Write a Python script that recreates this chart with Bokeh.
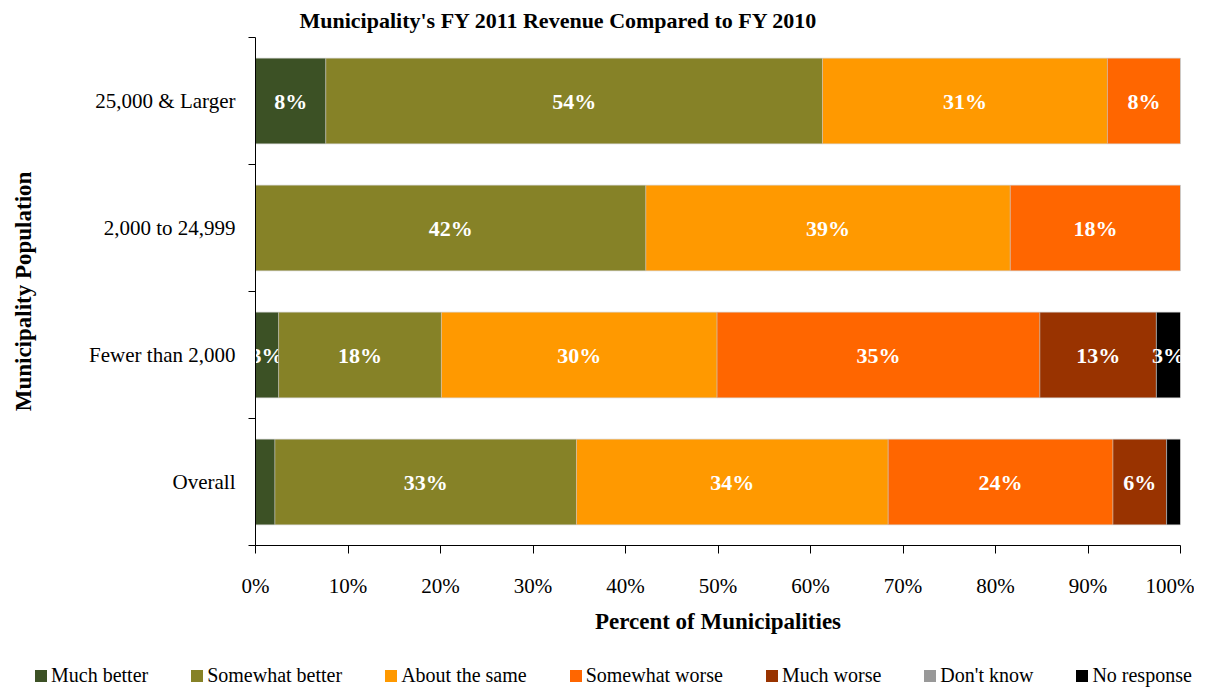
from bokeh.plotting import figure
from bokeh.models import FixedTicker, Legend, LegendItem, ColumnDataSource, Title
from bokeh.core.properties import value
from bokeh.embed import file_html
from bokeh.resources import INLINE

# ---- data ----
groups = ["Overall", "Fewer than 2,000", "2,000 to 24,999", "25,000 & Larger"]
series = ["Much better", "Somewhat better", "About the same", "Somewhat worse",
          "Much worse", "Don't know", "No response"]
much_better     = [2.1, 2.5, 0.0, 7.6]
somewhat_better = [32.6, 17.6, 42.2, 53.7]
about_same      = [33.7, 29.8, 39.4, 30.8]
somewhat_worse  = [24.3, 34.9, 18.4, 7.9]
much_worse      = [5.8, 12.6, 0.0, 0.0]
dont_know       = [0.0, 0.0, 0.0, 0.0]
no_response     = [1.5, 2.6, 0.0, 0.0]
colors = ["#3C5125", "#868227", "#FF9900", "#FF6600", "#993300", "#999999", "#000000"]
x_ticks = [0, 10, 20, 30, 40, 50, 60, 70, 80, 90, 100]

values = [much_better, somewhat_better, about_same, somewhat_worse,
          much_worse, dont_know, no_response]

FONT = "Liberation Serif"

p = figure(width=1194, height=655, output_backend="svg", toolbar_location=None,
           x_range=(0, 100), y_range=(0, 4),
           min_border_left=255, min_border_right=14, min_border_top=29,
           min_border_bottom=110)
p.title = Title(text="Municipality's FY 2011 Revenue Compared to FY 2010",
                text_font=FONT, text_font_size="22px", text_font_style="bold",
                align="left", offset=44, text_color="#000000")
p.grid.visible = False
p.outline_line_color = None

ypos = [i + 0.5 for i in range(len(groups))]
left = [0.0] * len(groups)
for name, vals, col in zip(series, values, colors):
    right = [l + v for l, v in zip(left, vals)]
    src = ColumnDataSource(dict(y=ypos, left=left, right=right, v=vals))
    p.hbar(y="y", left="left", right="right", height=0.675, source=src,
           fill_color=col, line_color="#c8c8c8", line_width=1, line_alpha=0.5)
    lab_y, lab_x, lab_t = [], [], []
    for yy, l, v in zip(ypos, left, vals):
        if v >= 2.5:
            lab_y.append(yy)
            lab_x.append(l + v / 2)
            lab_t.append("%d%%" % int(v + 0.5))
    p.text(x=lab_x, y=lab_y, text=lab_t, text_align="center", text_baseline="middle",
           text_color="white", text_font=value(FONT), text_font_size="22px",
           text_font_style="bold")
    left = right

# axes
p.xaxis.ticker = FixedTicker(ticks=x_ticks)
p.xaxis.major_label_overrides = {t: "%d%%" % t for t in x_ticks}
p.xaxis.axis_label = "Percent of Municipalities"
p.yaxis.ticker = FixedTicker(ticks=ypos, minor_ticks=[0, 1, 2, 3, 4])
p.yaxis.major_label_overrides = {y: g for y, g in zip(ypos, groups)}
p.yaxis.axis_label = "Municipality Population"
p.yaxis.minor_tick_out = 7
p.yaxis.minor_tick_in = 0
p.yaxis.minor_tick_line_color = "#000000"
p.yaxis.major_tick_line_color = None
p.xaxis.minor_tick_line_color = None
p.xaxis.major_tick_out = 8
p.xaxis.major_tick_in = 0
p.xaxis.major_tick_line_color = "#000000"
for ax in (p.xaxis, p.yaxis):
    ax.axis_line_color = "#000000"
    ax.major_label_text_font = FONT
    ax.major_label_text_font_size = "21px"
    ax.major_label_text_color = "#000000"
    ax.axis_label_text_font = FONT
    ax.axis_label_text_font_size = "23px"
    ax.axis_label_text_font_style = "bold"
    ax.axis_label_text_color = "#000000"
p.yaxis.major_label_standoff = 13
p.xaxis.major_label_standoff = 20
p.xaxis.axis_label_standoff = 8
p.yaxis.axis_label_standoff = 50

# ---- legend strip (separate root so its frame spans the full width) ----
lg = figure(width=1202, height=36, output_backend="svg", toolbar_location=None,
            x_range=(0, 1), y_range=(0, 1), min_border=0)
lg.axis.visible = False
lg.grid.visible = False
lg.outline_line_color = None
items = []
for name, col in zip(series, colors):
    r = lg.quad(left=[5], right=[6], bottom=[5], top=[6], fill_color=col, line_color=None)
    items.append(LegendItem(label=name, renderers=[r]))
legend = Legend(items=items, orientation="horizontal", location=(33, 4),
                label_text_font=FONT, label_text_font_size="20px",
                label_text_color="#000000", glyph_width=15, glyph_height=15,
                label_standoff=3, spacing=41, border_line_color=None,
                background_fill_alpha=0, padding=0, margin=0,
                label_height=20)
lg.add_layout(legend, "center")

open("out.html", "w").write(file_html([p, lg], INLINE))
